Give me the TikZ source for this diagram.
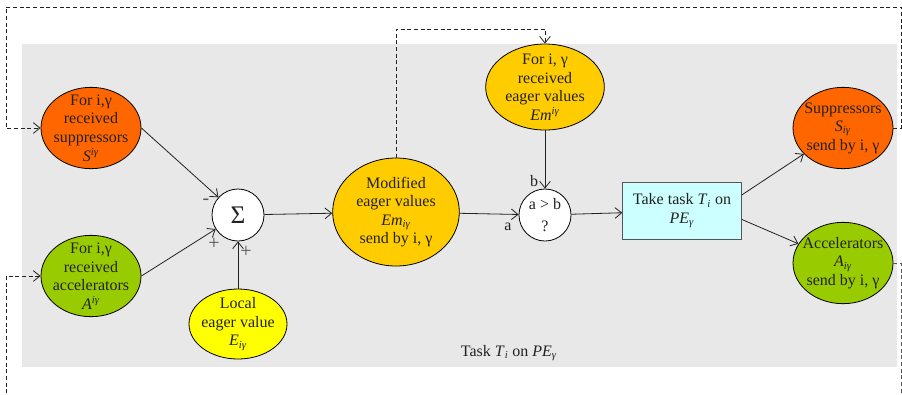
\documentclass[tikz,border=0pt]{standalone}
\usepackage{fontspec}
\setmainfont{Liberation Serif}
\usetikzlibrary{positioning, shapes.geometric, arrows.meta}
\definecolor{supcolor}{HTML}{FF6600}
\definecolor{acccolor}{HTML}{99CC00}
\definecolor{eagercolor}{HTML}{FFCC00}
\definecolor{localcolor}{HTML}{FFFF00}
\definecolor{taskcolor}{HTML}{CCFFFF}
\definecolor{backcolor}{HTML}{E8E8E8}
\definecolor{inkcolor}{HTML}{222222}
\definecolor{loopcolor}{HTML}{555555}

% italic sub- and superscripts
\newcommand{\idx}[1]{\textsubscript{\textit{#1}}}
\newcommand{\upidx}[1]{\textsuperscript{\textit{#1}}}

\begin{document}
\begin{tikzpicture}[x=0.75pt, y=-0.75pt,
        font=\fontsize{12}{13.9}\selectfont, text=inkcolor,
        % node styles
        blob/.style={
            draw=black,
            line width=0.6pt,
            ellipse,
            inner sep=0pt
        },
        signal/.style={blob, minimum width=75pt, minimum height=61pt},
        junction/.style={draw=black, line width=0.6pt, circle, fill=white,
            minimum size=39pt, inner sep=0pt, align=center},
        words/.style={align=center, inner sep=0pt},
        sign/.style={text=loopcolor, inner sep=0pt, font=\fontsize{15}{15}\selectfont},
        link/.style={draw=inkcolor, line width=0.6pt,
            -{Straight Barb[length=5pt, width=8pt]}},
        feedback/.style={draw=loopcolor, line width=0.6pt,
            dash pattern=on 3pt off 2pt}
    ]
    \useasboundingbox (0,0) rectangle (902,394);

    % Task area
    \fill[backcolor] (22,44) rectangle (897,367);
    \node (tasklabel) at (509,353) {Task \textit{T}\idx{i} on \textit{PE}\idx{γ}};

    % Nodes
    \node[signal, fill=supcolor,
        label={[words]center:{For i,γ\\received\\suppressors\\\textit{S}\upidx{iγ}}}]
        (supin) at (91,128) {};
    \node[signal, fill=acccolor,
        label={[words]center:{For i,γ\\received\\accelerators\\\textit{A}\upidx{iγ}}}]
        (accin) at (91,276) {};
    \node[junction] (sum) at (238,215) {\fontsize{19}{19}\selectfont Σ};
    \node[blob, fill=localcolor, minimum width=73.5pt, minimum height=52.5pt,
        label={[words]center:{Local\\eager value\\\textit{E}\idx{iγ}}}]
        (local) at (238,324) {};
    \node[blob, fill=eagercolor, minimum width=95pt, minimum height=81pt,
        label={[words]center:{Modified\\eager values\\\textit{Em}\idx{iγ}\\send by i, γ}}]
        (modif) at (396,212) {};
    \node[blob, fill=eagercolor, minimum width=89pt, minimum height=64.5pt,
        label={[words]center:{For i, γ\\received\\eager values\\\textit{Em}\upidx{iγ}}}]
        (recv) at (545,87) {};
    \node[junction] (cmp) at (545,215) {a > b\\[2pt]?};
    \node[draw=loopcolor, line width=0.6pt, fill=taskcolor, align=center,
        minimum width=89pt, minimum height=43pt, inner sep=1pt]
        (task) at (682,211) {Take task \textit{T}\idx{i} on\\\textit{PE}\idx{γ}};
    \node[signal, fill=supcolor,
        label={[words]center:{Suppressors\\\textit{S}\idx{iγ}\\send by i, γ}}]
        (supout) at (843,128) {};
    \node[signal, fill=acccolor,
        label={[words]center:{Accelerators\\\textit{A}\idx{iγ}\\send by i, γ}}]
        (accout) at (843,263) {};

    % Signs at the inputs
    \node[sign] (minus) at (206,202) {-};
    \node[sign] (plusacc) at (214,244) {+};
    \node[sign] (pluslocal) at (246,252) {+};
    \node (inb) at (534,181) {b};
    \node (ina) at (508,227) {a};

    % Lines
    \draw[link] (supin.east) -- (sum);
    \draw[link] (accin.east) -- (sum);
    \draw[link] (local) -- (sum);
    \draw[link] (sum) -- (modif);
    \draw[link] (modif) -- (cmp);
    \draw[link] (recv) -- (cmp);
    \draw[link] (cmp) -- (task);
    \draw[link] (task.15) -- (supout);
    \draw[link] (task.-8) -- (accout);

    % Dashed feedback loops
    \coordinate (topleft) at (6,7);
    \coordinate (bridge) at (545,29);
    \coordinate (dropright) at (901,400);
    \coordinate (riseleft) at (6,400);
    \draw[feedback, link] (supout.east) -- ++(8,0) |- (topleft) |- (supin.west);
    \draw[feedback] (accout.east) -| (dropright);
    \draw[feedback, link] (riseleft) |- (accin.west);
    \draw[feedback, link] (modif.north) |- (bridge) -- (recv.north);
\end{tikzpicture}
\end{document}
